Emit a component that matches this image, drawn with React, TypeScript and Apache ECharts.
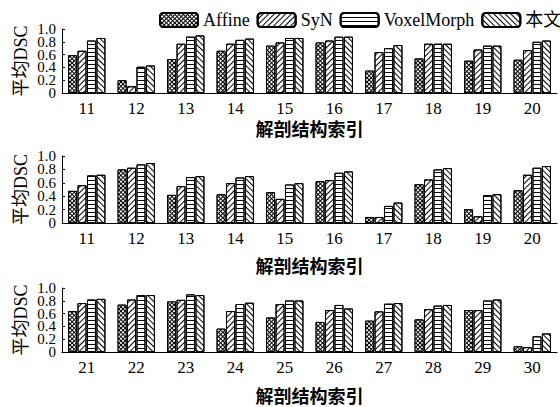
import React, { useEffect, useRef } from "react";
import * as echarts from "echarts";

const seriesNames = ["Affine", "SyN", "VoxelMorph", "本文"];
const cats1 = ["11", "12", "13", "14", "15", "16", "17", "18", "19", "20"];
const cats2 = ["11", "12", "13", "14", "15", "16", "17", "18", "19", "20"];
const cats3 = ["21", "22", "23", "24", "25", "26", "27", "28", "29", "30"];
const yTickLabels = ["0", "0.2", "0.4", "0.6", "0.8", "1.0"];

// panel 1
const p1Affine = [0.59, 0.2, 0.53, 0.66, 0.74, 0.79, 0.35, 0.54, 0.505, 0.52];
const p1SyN = [0.66, 0.105, 0.77, 0.77, 0.79, 0.82, 0.64, 0.77, 0.68, 0.67];
const p1Voxel = [0.82, 0.41, 0.88, 0.83, 0.86, 0.88, 0.7, 0.77, 0.74, 0.8];
const p1Ours = [0.86, 0.43, 0.9, 0.85, 0.86, 0.88, 0.75, 0.77, 0.74, 0.82];
// panel 2
const p2Affine = [0.48, 0.8, 0.42, 0.43, 0.46, 0.625, 0.09, 0.58, 0.205, 0.49];
const p2SyN = [0.565, 0.825, 0.55, 0.595, 0.36, 0.64, 0.09, 0.65, 0.1, 0.72];
const p2Voxel = [0.71, 0.875, 0.685, 0.68, 0.575, 0.75, 0.255, 0.8, 0.415, 0.825];
const p2Ours = [0.72, 0.895, 0.7, 0.7, 0.595, 0.77, 0.305, 0.82, 0.43, 0.85];
// panel 3
const p3Affine = [0.64, 0.74, 0.79, 0.365, 0.54, 0.47, 0.49, 0.51, 0.655, 0.09];
const p3SyN = [0.765, 0.82, 0.815, 0.64, 0.75, 0.655, 0.635, 0.67, 0.655, 0.075];
const p3Voxel = [0.82, 0.89, 0.9, 0.75, 0.805, 0.735, 0.755, 0.725, 0.805, 0.245];
const p3Ours = [0.83, 0.89, 0.89, 0.77, 0.805, 0.68, 0.765, 0.735, 0.82, 0.29];

const xTitle = "解剖结构索引";
const yTitle = "平均DSC";

const SERIF = '"Liberation Serif", "Times New Roman", "Noto Sans CJK SC", serif';

const styles = [
  {
    color: "#000",
    decal: {
      symbol: "rect",
      symbolSize: 1,
      color: "#fff",
      dashArrayX: [2, 1],
      dashArrayY: [2, 1],
      rotation: Math.PI / 4,
    },
  },
  {
    color: "#fff",
    decal: {
      symbol: "rect",
      symbolSize: 1,
      color: "#000",
      dashArrayX: [1, 0],
      dashArrayY: [1, 3],
      rotation: -Math.PI / 4,
    },
  },
  {
    color: "#fff",
    decal: {
      symbol: "rect",
      symbolSize: 1,
      color: "#000",
      dashArrayX: [1, 0],
      dashArrayY: [1, 3],
      rotation: 0,
    },
  },
  {
    color: "#fff",
    decal: {
      symbol: "rect",
      symbolSize: 1,
      color: "#000",
      dashArrayX: [1, 0],
      dashArrayY: [1, 3],
      rotation: Math.PI / 4,
    },
  },
];

export default function App() {
  const ref = useRef<HTMLDivElement>(null);
  useEffect(() => {
    if (!ref.current) return;
    const chart = echarts.init(ref.current, null, { renderer: "svg" });
    const panels = [
      { cats: cats1, data: [p1Affine, p1SyN, p1Voxel, p1Ours], top: 29, height: 64, nameGap: 28 },
      { cats: cats2, data: [p2Affine, p2SyN, p2Voxel, p2Ours], top: 156, height: 67, nameGap: 35 },
      { cats: cats3, data: [p3Affine, p3SyN, p3Voxel, p3Ours], top: 288, height: 65, nameGap: 36 },
    ];
    const grids = panels.map((p) => ({ left: 62, right: 3, top: p.top, height: p.height }));
    const xAxes = panels.map((p, i) => ({
      type: "category",
      gridIndex: i,
      data: p.cats,
      axisLine: { lineStyle: { color: "#000", width: 1 } },
      axisTick: { show: false },
      axisLabel: { color: "#000", fontFamily: SERIF, fontSize: 17, margin: 7 },
      name: xTitle,
      nameLocation: "middle",
      nameGap: p.nameGap,
      nameTextStyle: { color: "#000", fontFamily: SERIF, fontSize: 18, fontWeight: "bold" },
    }));
    const yAxes: any[] = [];
    panels.forEach((p, i) => {
      // value axis that scales the bars
      yAxes.push({
        type: "value",
        gridIndex: i,
        min: 0,
        max: 1,
        interval: 0.2,
        splitLine: { show: false },
        axisLine: { show: true, lineStyle: { color: "#000", width: 1 } },
        axisTick: { show: true, inside: true, length: 3, lineStyle: { color: "#000" } },
        axisLabel: { show: false },
        name: yTitle,
        nameLocation: "middle",
        nameGap: 32,
        nameTextStyle: { color: "#000", fontFamily: SERIF, fontSize: 18 },
      });
      // label axis aligned with the value ticks (shows every tick label)
      yAxes.push({
        type: "category",
        gridIndex: i,
        position: "left",
        data: yTickLabels,
        boundaryGap: false,
        axisLine: { show: false },
        axisTick: { show: false },
        splitLine: { show: false },
        axisLabel: {
          interval: 0,
          color: "#000",
          fontFamily: SERIF,
          fontSize: 15,
          margin: 6,
        },
      });
    });
    const series: any[] = [];
    panels.forEach((p, gi) => {
      p.data.forEach((d, si) => {
        series.push({
          type: "bar",
          name: seriesNames[si],
          xAxisIndex: gi,
          yAxisIndex: gi * 2,
          data: d,
          barWidth: 9,
          barGap: "5%",
          itemStyle: { ...styles[si], borderColor: "#000", borderWidth: 1 },
        });
      });
    });
    chart.setOption({
      animation: false,
      backgroundColor: "#fff",
      legend: {
        data: seriesNames,
        top: 6,
        left: 154,
        width: 420,
        itemWidth: 38,
        itemHeight: 14,
        itemGap: 7,
        textStyle: { color: "#000", fontFamily: SERIF, fontSize: 18 },
      },
      grid: grids,
      xAxis: xAxes,
      yAxis: yAxes,
      series,
    });
    return () => chart.dispose();
  }, []);
  return <div ref={ref} style={{ width: 560, height: 407, position: "absolute", left: 0, top: 0 }} />;
}
